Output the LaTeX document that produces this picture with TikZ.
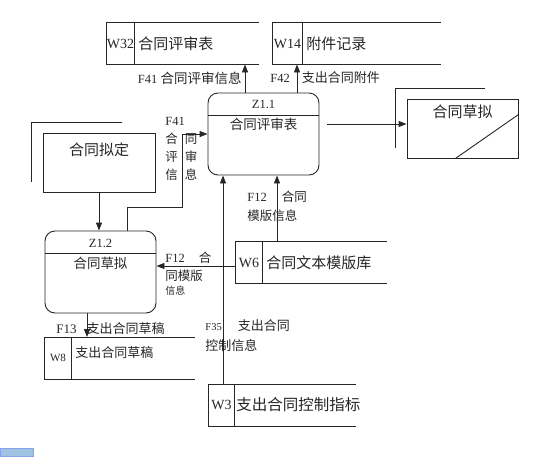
\documentclass[tikz,border=0pt]{standalone}
\usepackage{fontspec}
\setmainfont{Liberation Serif}
\newfontfamily\cjk{Noto Sans CJK SC}
\usetikzlibrary{positioning, arrows.meta}
\definecolor{scanblue}{RGB}{158,196,226}
\newcommand\fsz[1]{\fontsize{#1}{#1}\selectfont}

\begin{document}
\begin{tikzpicture}[
  x=1pt, y=1pt, line width=0.9pt, color=black!85,
  process/.style={draw, rounded corners=10pt, minimum width=111pt, minimum height=82pt},
  entity/.style={draw, minimum width=112pt, minimum height=59pt},
  storeid/.style={anchor=west, minimum height=41pt, inner sep=0pt, font=\fsz{14}},
  storetext/.style={anchor=west, minimum height=41pt, inner sep=3pt, align=left, font=\cjk\fsz{15}},
  flowlbl/.style={anchor=north west, inner sep=0pt, align=left, font=\fsz{12.5}},
  arrow/.style={-{Triangle[length=8pt, width=6pt]}}
]
\useasboundingbox (0,0) rectangle (555,-456);

% Data stores
\node[storeid, minimum width=28pt] (w32) at (106,-43.5) {W32};
\node[storetext, text width=117pt, right=0pt of w32] (w32-txt) {合同评审表};
\node[storeid, minimum width=30pt] (w14) at (272,-43.5) {W14};
\node[storetext, text width=131pt, right=0pt of w14] (w14-txt) {附件记录};
\node[storeid, minimum width=27pt] (w6) at (235,-262.5) {W6};
\node[storetext, text width=117pt, right=0pt of w6] (w6-txt) {合同文本模版库};
\node[storeid, minimum width=27pt, font=\fsz{11}] (w8) at (44,-358) {W8};
\node[storetext, text width=116pt, right=0pt of w8, font=\cjk\fsz{13}, yshift=5pt] (w8-txt) {支出合同草稿};
\node[storeid, minimum width=26pt] (w3) at (208,-405) {W3};
\node[storetext, text width=118pt, right=0pt of w3, inner sep=1pt, font=\cjk\fsz{15.5}] (w3-txt) {支出合同控制指标};

\foreach \s in {w32,w14,w6,w3} {
  \draw (\s-txt.north east) -- (\s.north west) -- (\s.south west) -- (\s-txt.south east);
  \draw (\s.north east) -- (\s.south east);
}
\draw ([yshift=-5pt]w8-txt.north east) -- (w8.north west) -- (w8.south west) -- ([yshift=-5pt]w8-txt.south east);
\draw (w8.north east) -- (w8.south east);

% Processes
\node[process] (z11) at (263.5,-134) {};
\node[font=\fsz{12.5}] (z11-id) at (263.5,-104) {Z1.1};
\node[font=\cjk\fsz{13.5}] (z11-name) at (263.5,-124) {合同评审表};
\node[process] (z12) at (100.5,-272) {};
\node[font=\fsz{12.5}] (z12-id) at (100.5,-243) {Z1.2};
\node[font=\cjk\fsz{13.5}] (z12-name) at (100.5,-263) {合同草拟};
\foreach \p in {z11,z12}
  \draw ([yshift=-23pt]\p.north west) -- ([yshift=-23pt]\p.north east);

% External entities
\node[entity] (draft) at (99,-162.5) {};
\node[below=6pt of draft.north, font=\cjk\fsz{15}] (draft-txt) {合同拟定};
\node[entity, minimum width=111pt] (drafting) at (462.5,-128.5) {};
\node[below=3pt of drafting.north, font=\cjk\fsz{15}] (drafting-txt) {合同草拟};
\foreach \e in {draft,drafting}
  \draw ([shift={(-33,10)}]\e.north east) -| ([shift={(-11,10)}]\e.south west);
\draw ([xshift=-63pt]drafting.south east) -- ([yshift=-16pt]drafting.north east);

% Data flows
\coordinate (f41-bend) at (182,-207);
\draw[arrow] ([xshift=-18.5pt]z11.north) -- ([xshift=-18.5pt]z11.north |- w32-txt.south);
\draw[arrow] ([xshift=33.5pt]z11.north) -- ([xshift=33.5pt]z11.north |- w14.south);
\draw[arrow] ([xshift=8pt, yshift=10pt]z11.east) -- ([yshift=4.5pt]drafting.west);
\draw[arrow] (draft.south) -- (draft.south |- z12.north);
\draw[arrow] ([xshift=26.5pt]z12.north) |- (f41-bend) |- (z11.west);
\draw[arrow] ([yshift=-3.5pt]w6.west) -- ([yshift=-3.5pt]w6.west -| z12.east);
\draw[arrow] ([xshift=13.5pt]z11.south |- w6-txt.north) -- ([xshift=13.5pt]z11.south);
\draw[arrow] ([xshift=-40.5pt]z11.south |- w3.north) -- ([xshift=-40.5pt]z11.south);
\draw[arrow] ([xshift=-13.5pt]z12.south) -- ([xshift=-13.5pt]z12.south |- w8.north);

% Flow labels
\node[flowlbl, anchor=east] (f41-top) at (242,-78) {F41 {\cjk\fsz{13.5}合同评审信息}};
\node[flowlbl, anchor=west] (f42-top) at (270,-78) {F42\hspace{12pt}{\cjk\fsz{13}支出合同附件}};
\node[flowlbl, font=\fontsize{12.5}{18}\selectfont] (f41-left) at (165,-117)
  {F41\\{\cjk 合\hspace{7pt}同}\\{\cjk 评\hspace{7pt}审}\\{\cjk 信\hspace{7pt}息}};
\node[flowlbl, font=\fontsize{12.5}{18}\selectfont] (f12-low) at (165,-252)
  {F12\hspace{14pt}{\cjk 合}\\{\cjk 同模版}\\[-4pt]{\cjk\fsz{10}信息}};
\node[flowlbl, font=\fontsize{12.5}{19}\selectfont] (f12-up) at (247,-191)
  {F12\hspace{15pt}{\cjk 合同}\\{\cjk 模版信息}};
\node[flowlbl, font=\fontsize{13}{20}\selectfont] (f35) at (205,-319)
  {{\fsz{10.5}F35}\hspace{16pt}{\cjk 支出合同}\\{\cjk 控制信息}};
\node[flowlbl, anchor=west, font=\fsz{13}] (f13) at (56,-329) {F13\hspace{10pt}{\cjk 支出合同草稿}};

% corner mark
\draw[line width=0.6pt, draw=scanblue!70!blue!80, fill=scanblue] (0,-456) rectangle (33,-448);
\end{tikzpicture}
\end{document}
